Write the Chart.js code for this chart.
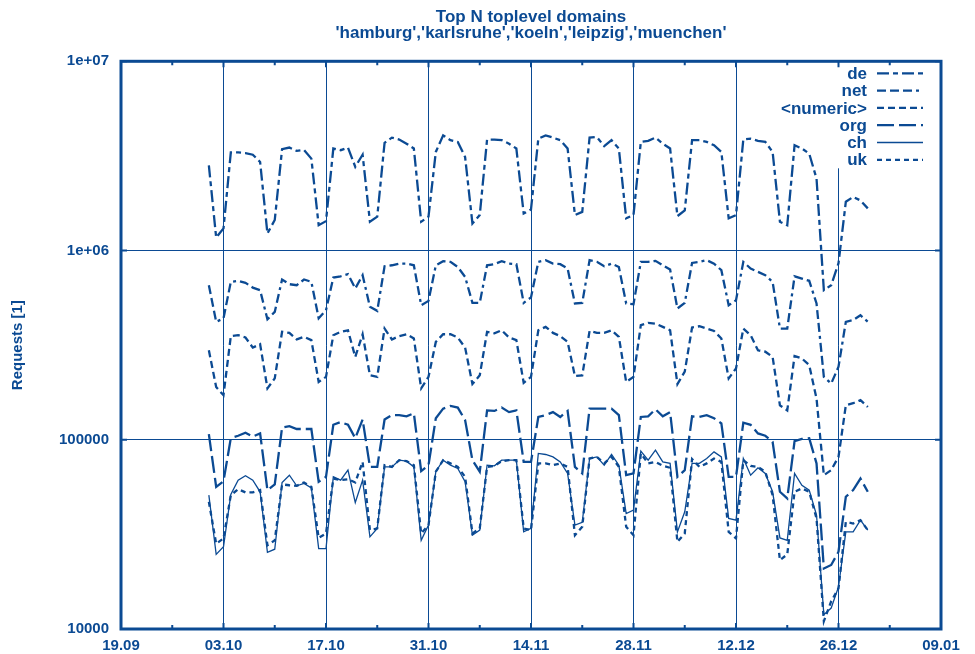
<!DOCTYPE html>
<html>
<head>
<meta charset="utf-8">
<script src="https://cdn.jsdelivr.net/npm/chart.js@4.4.0/dist/chart.umd.min.js"></script>
<style>
  html, body { margin: 0; padding: 0; background: #fff; }
</style>
</head>
<body>
<canvas id="chart" width="975" height="654"></canvas>
<script>
// daily request counts, 01.10.1999 - 30.12.1999
const dates = [
  "01.10","02.10","03.10","04.10","05.10","06.10","07.10","08.10","09.10","10.10",
  "11.10","12.10","13.10","14.10","15.10","16.10","17.10","18.10","19.10","20.10",
  "21.10","22.10","23.10","24.10","25.10","26.10","27.10","28.10","29.10","30.10","31.10",
  "01.11","02.11","03.11","04.11","05.11","06.11","07.11","08.11","09.11","10.11",
  "11.11","12.11","13.11","14.11","15.11","16.11","17.11","18.11","19.11","20.11",
  "21.11","22.11","23.11","24.11","25.11","26.11","27.11","28.11","29.11","30.11",
  "01.12","02.12","03.12","04.12","05.12","06.12","07.12","08.12","09.12","10.12",
  "11.12","12.12","13.12","14.12","15.12","16.12","17.12","18.12","19.12","20.12",
  "21.12","22.12","23.12","24.12","25.12","26.12","27.12","28.12","29.12","30.12"
];

const de = [
  2.82e6, 1.17e6, 1.31e6,
  3.30e6, 3.30e6, 3.27e6, 3.21e6, 2.94e6, 1.23e6, 1.45e6,
  3.43e6, 3.50e6, 3.36e6, 3.40e6, 3.06e6, 1.36e6, 1.43e6,
  3.46e6, 3.39e6, 3.50e6, 2.77e6, 3.21e6, 1.42e6, 1.51e6,
  3.71e6, 3.95e6, 3.86e6, 3.67e6, 3.46e6, 1.42e6, 1.51e6,
  3.32e6, 4.06e6, 3.83e6, 3.75e6, 3.12e6, 1.39e6, 1.54e6,
  3.86e6, 3.86e6, 3.83e6, 3.67e6, 3.46e6, 1.57e6, 1.65e6,
  3.90e6, 4.06e6, 3.95e6, 3.83e6, 3.46e6, 1.54e6, 1.60e6,
  3.95e6, 3.98e6, 3.56e6, 3.83e6, 3.46e6, 1.48e6, 1.54e6,
  3.75e6, 3.80e6,
  3.95e6, 3.67e6, 3.46e6, 1.52e6, 1.63e6,
  3.83e6, 3.83e6, 3.75e6, 3.60e6, 3.32e6, 1.48e6, 1.54e6,
  3.86e6, 3.90e6, 3.80e6, 3.75e6, 3.32e6, 1.42e6, 1.36e6,
  3.60e6, 3.46e6, 3.25e6, 2.40e6, 6.17e5, 6.56e5, 8.57e5,
  1.81e6, 1.92e6, 1.84e6, 1.67e6
];

const net = [
  6.56e5, 4.20e5, 4.38e5,
  6.83e5, 6.92e5, 6.75e5, 6.37e5, 6.17e5, 4.33e5, 4.74e5,
  7.03e5, 6.64e5, 6.56e5, 7.03e5, 6.83e5, 4.38e5, 4.84e5,
  7.20e5, 7.31e5, 7.50e5, 6.30e5, 7.41e5, 5.04e5, 4.80e5,
  8.26e5, 8.36e5, 8.53e5, 8.53e5, 8.36e5, 5.14e5, 5.42e5,
  8.36e5, 8.78e5, 8.71e5, 8.19e5, 7.26e5, 5.29e5, 5.29e5,
  8.36e5, 8.47e5, 8.78e5, 8.53e5, 8.47e5, 5.29e5, 5.65e5,
  8.71e5, 8.89e5, 8.53e5, 8.47e5, 8.03e5, 5.25e5, 5.29e5,
  8.89e5, 8.71e5, 8.26e5, 8.53e5, 8.19e5, 5.25e5, 5.20e5,
  8.71e5, 8.71e5,
  8.82e5, 8.36e5, 7.93e5, 4.94e5, 5.29e5,
  8.60e5, 8.71e5, 8.89e5, 8.53e5, 7.87e5, 5.14e5, 5.46e5,
  8.71e5, 8.03e5, 7.71e5, 7.41e5, 6.83e5, 3.87e5, 3.87e5,
  7.31e5, 7.11e5, 6.92e5, 5.25e5, 2.15e5, 1.98e5, 2.43e5,
  4.20e5, 4.29e5, 4.55e5, 4.20e5
];

const numeric = [
  2.97e5, 1.90e5, 1.72e5,
  3.53e5, 3.57e5, 3.47e5, 3.07e5, 3.20e5, 1.87e5, 2.11e5,
  3.72e5, 3.67e5, 3.39e5, 3.50e5, 3.36e5, 2.02e5, 2.15e5,
  3.57e5, 3.72e5, 3.79e5, 2.74e5, 3.61e5, 2.19e5, 2.15e5,
  3.87e5, 3.39e5, 3.53e5, 3.61e5, 3.43e5, 1.87e5, 2.15e5,
  3.29e5, 3.61e5, 3.61e5, 3.47e5, 3.07e5, 1.97e5, 2.19e5,
  3.72e5, 3.65e5, 3.79e5, 3.47e5, 3.36e5, 2.00e5, 2.15e5,
  3.79e5, 3.95e5, 3.67e5, 3.53e5, 3.29e5, 2.17e5, 2.19e5,
  3.76e5, 3.67e5, 3.67e5, 3.79e5, 3.50e5, 2.02e5, 2.15e5,
  4.03e5, 4.15e5,
  4.11e5, 3.95e5, 3.79e5, 1.97e5, 2.29e5,
  3.92e5, 3.98e5, 3.87e5, 3.76e5, 3.43e5, 2.11e5, 2.38e5,
  3.87e5, 3.57e5, 2.97e5, 2.92e5, 2.74e5, 1.52e5, 1.43e5,
  2.77e5, 2.69e5, 2.48e5, 1.65e5, 6.50e4, 6.91e4, 8.12e4,
  1.52e5, 1.56e5, 1.62e5, 1.49e5
];

const org = [
  1.07e5, 5.64e4, 6.04e4,
  1.02e5, 1.05e5, 1.09e5, 1.04e5, 1.08e5, 5.42e4, 5.81e4,
  1.16e5, 1.18e5, 1.14e5, 1.14e5, 1.14e5, 6.00e4, 6.37e4,
  1.20e5, 1.24e5, 1.20e5, 1.02e5, 1.28e5, 7.19e4, 7.19e4,
  1.28e5, 1.35e5, 1.35e5, 1.33e5, 1.38e5, 6.83e4, 7.34e4,
  1.30e5, 1.46e5, 1.51e5, 1.48e5, 1.27e5, 7.80e4, 6.78e4,
  1.43e5, 1.42e5, 1.48e5, 1.40e5, 1.43e5, 7.64e4, 7.64e4,
  1.32e5, 1.35e5, 1.40e5, 1.32e5, 1.42e5, 7.19e4, 6.64e4,
  1.46e5, 1.46e5, 1.46e5, 1.46e5, 1.35e5, 6.50e4, 6.64e4,
  1.32e5, 1.33e5,
  1.45e5, 1.33e5, 1.40e5, 6.37e4, 6.91e4,
  1.33e5, 1.32e5, 1.35e5, 1.30e5, 1.22e5, 6.37e4, 6.37e4,
  1.23e5, 1.20e5, 1.08e5, 1.05e5, 9.75e4, 5.31e4, 4.90e4,
  9.84e4, 1.01e5, 1.02e5, 7.50e4, 2.09e4, 2.18e4, 2.56e4,
  5.00e4, 5.42e4, 6.24e4, 5.31e4
];

const ch = [
  5.10e4, 2.48e4, 2.72e4,
  5.14e4, 6.12e4, 6.45e4, 6.12e4, 5.31e4, 2.54e4, 2.64e4,
  5.95e4, 6.50e4, 5.71e4, 5.88e4, 5.57e4, 2.66e4, 2.66e4,
  6.37e4, 6.12e4, 6.91e4, 4.66e4, 6.12e4, 3.07e4, 3.40e4,
  7.19e4, 7.19e4, 7.80e4, 7.71e4, 7.19e4, 2.94e4, 3.54e4,
  6.78e4, 7.80e4, 7.34e4, 7.05e4, 6.00e4, 3.13e4, 3.33e4,
  7.34e4, 7.28e4, 7.80e4, 7.80e4, 7.80e4, 3.26e4, 3.40e4,
  8.47e4, 8.36e4, 8.12e4, 7.64e4, 6.64e4, 3.54e4, 3.66e4,
  7.96e4, 8.12e4, 7.34e4, 8.36e4, 7.34e4, 4.07e4, 4.25e4,
  8.71e4, 7.80e4,
  8.81e4, 7.64e4, 7.50e4, 3.26e4, 4.16e4,
  7.50e4, 7.50e4, 7.96e4, 8.63e4, 8.12e4, 3.84e4, 3.76e4,
  7.96e4, 6.50e4, 7.11e4, 6.64e4, 5.31e4, 3.03e4, 2.94e4,
  6.64e4, 5.75e4, 5.42e4, 4.00e4, 1.19e4, 1.29e4, 1.67e4,
  3.26e4, 3.26e4, 3.76e4, 3.33e4
];

const uk = [
  4.70e4, 2.82e4, 3.01e4,
  5.10e4, 5.48e4, 5.27e4, 5.27e4, 5.42e4, 2.77e4, 2.94e4,
  5.81e4, 5.75e4, 5.71e4, 5.95e4, 5.64e4, 3.03e4, 3.20e4,
  6.24e4, 6.12e4, 6.19e4, 5.95e4, 7.64e4, 3.33e4, 3.40e4,
  7.34e4, 7.19e4, 7.80e4, 7.71e4, 7.34e4, 3.20e4, 3.54e4,
  6.78e4, 7.80e4, 7.50e4, 7.19e4, 6.37e4, 3.20e4, 3.40e4,
  7.19e4, 7.28e4, 7.71e4, 7.80e4, 7.80e4, 3.40e4, 3.33e4,
  7.50e4, 7.50e4, 7.34e4, 7.50e4, 7.19e4, 3.13e4, 3.47e4,
  7.96e4, 8.12e4, 7.50e4, 8.12e4, 7.19e4, 3.47e4, 3.13e4,
  8.47e4, 7.50e4,
  7.64e4, 7.28e4, 7.11e4, 2.89e4, 3.20e4,
  7.91e4, 7.19e4, 7.50e4, 7.96e4, 7.64e4, 3.26e4, 3.01e4,
  7.80e4, 7.28e4, 7.19e4, 6.78e4, 5.10e4, 2.31e4, 2.48e4,
  5.31e4, 5.53e4, 5.31e4, 3.84e4, 1.10e4, 1.40e4, 1.64e4,
  3.68e4, 3.61e4, 3.76e4, 3.33e4
];

const seriesNames = ["de", "net", "<numeric>", "org", "ch", "uk"];
const xTickLabels = ["19.09","03.10","17.10","31.10","14.11","28.11","12.12","26.12","09.01"];
const yTickLabels = ["10000", "100000", "1e+06", "1e+07"];
const yTickValues = [1e4, 1e5, 1e6, 1e7];

const BLUE = "#0b4a93";
const FAMILY = "'Liberation Sans', Arial, sans-serif";
const TICK_FONT = { family: FAMILY, size: 15, weight: "bold" };
const BIG_FONT = { family: FAMILY, size: 17, weight: "bold" };

// days since 19.09.1999
function dayOf(s) {
  const [d, m] = s.split(".").map(Number);
  const y = m >= 9 ? 1999 : 2000;
  return (Date.UTC(y, m - 1, d) - Date.UTC(1999, 8, 19)) / 86400000;
}

function points(values) {
  return values.map((v, i) => ({ x: dayOf(dates[i]), y: v }));
}

const styles = [
  { dash: [12, 4, 5, 4], width: 2.3 },
  { dash: [9, 4, 9, 4, 9, 4, 3, 4], width: 2.3 },
  { dash: [7, 4], width: 2.3 },
  { dash: [17, 5], width: 2.3 },
  { dash: [], width: 1.3 },
  { dash: [5, 4], width: 2.3 }
];

const allSeries = [de, net, numeric, org, ch, uk];

const datasets = allSeries.map((vals, i) => ({
  label: seriesNames[i],
  data: points(vals),
  borderColor: BLUE,
  borderWidth: styles[i].width,
  borderDash: styles[i].dash,
  borderCapStyle: "butt",
  pointRadius: 0,
  fill: false,
  tension: 0
}));

// frame, inward ticks and the key (text on the left of its sample line)
const framePlugin = {
  id: "framePlugin",
  beforeDatasetsDraw(chart) {
    const { ctx, chartArea: a } = chart;
    ctx.save();
    ctx.fillStyle = "#fff";
    ctx.fillRect(a.right - 166, a.top + 1, 165, 106);
    ctx.restore();
  },
  afterDatasetsDraw(chart) {
    const { ctx, chartArea: a, scales } = chart;
    ctx.save();
    ctx.strokeStyle = BLUE;
    // x ticks every week
    ctx.lineWidth = 2;
    for (let d = 7; d < 112; d += 7) {
      const px = scales.x.getPixelForValue(d);
      const len = d % 14 === 0 ? 6 : 4;
      ctx.beginPath();
      ctx.moveTo(px, a.bottom); ctx.lineTo(px, a.bottom - len);
      ctx.moveTo(px, a.top); ctx.lineTo(px, a.top + len);
      ctx.stroke();
    }
    // y ticks at decades
    yTickValues.forEach((v) => {
      const py = scales.y.getPixelForValue(v);
      ctx.beginPath();
      ctx.moveTo(a.left, py); ctx.lineTo(a.left + 6, py);
      ctx.moveTo(a.right, py); ctx.lineTo(a.right - 6, py);
      ctx.stroke();
    });
    ctx.lineWidth = 3;
    ctx.strokeRect(a.left, a.top, a.right - a.left, a.bottom - a.top);
    ctx.restore();
  },
  afterDraw(chart) {
    const { ctx, chartArea: a } = chart;
    ctx.save();
    ctx.font = "bold 17px " + FAMILY;
    ctx.fillStyle = BLUE;
    ctx.strokeStyle = BLUE;
    ctx.textAlign = "right";
    ctx.textBaseline = "middle";
    seriesNames.forEach((name, i) => {
      const y = a.top + 12 + i * 17.3;
      ctx.fillText(name, a.right - 74, y + 1);
      ctx.lineWidth = styles[i].width;
      ctx.setLineDash(styles[i].dash);
      ctx.beginPath();
      ctx.moveTo(a.right - 64, y);
      ctx.lineTo(a.right - 18, y);
      ctx.stroke();
    });
    ctx.restore();
  }
};

new Chart(document.getElementById("chart"), {
  type: "line",
  data: { datasets },
  plugins: [framePlugin],
  options: {
    responsive: false,
    animation: false,
    layout: { padding: { left: 0, right: 34, top: 0, bottom: 0 } },
    plugins: {
      legend: { display: false },
      tooltip: { enabled: false },
      title: {
        display: true,
        fullSize: false,
        text: ["Top N toplevel domains", "'hamburg','karlsruhe','koeln','leipzig','muenchen'"],
        color: BLUE,
        font: { ...BIG_FONT, lineHeight: 0.95 },
        padding: { top: 9, bottom: 20 }
      }
    },
    scales: {
      x: {
        type: "linear",
        min: 0,
        max: 112,
        afterBuildTicks(scale) {
          scale.ticks = xTickLabels.map((_, i) => ({ value: i * 14 }));
        },
        afterFit(scale) { scale.height = 25; },
        ticks: {
          color: BLUE,
          font: TICK_FONT,
          padding: 8,
          maxRotation: 0,
          autoSkip: false,
          callback: (v, i) => xTickLabels[i]
        },
        grid: { color: BLUE, lineWidth: 1, drawTicks: false },
        border: { display: false }
      },
      y: {
        type: "logarithmic",
        min: 1e4,
        max: 1e7,
        afterBuildTicks(scale) {
          scale.ticks = yTickValues.map((v) => ({ value: v }));
        },
        afterFit(scale) { scale.width = 121; },
        ticks: {
          color: BLUE,
          font: TICK_FONT,
          padding: 12,
          autoSkip: false,
          callback: (v, i) => yTickLabels[i]
        },
        title: {
          display: true,
          text: "Requests [1]",
          color: BLUE,
          font: TICK_FONT,
          padding: { top: 9, bottom: 0 }
        },
        grid: { color: BLUE, lineWidth: 1, drawTicks: false },
        border: { display: false }
      }
    }
  }
});
</script>
</body>
</html>
